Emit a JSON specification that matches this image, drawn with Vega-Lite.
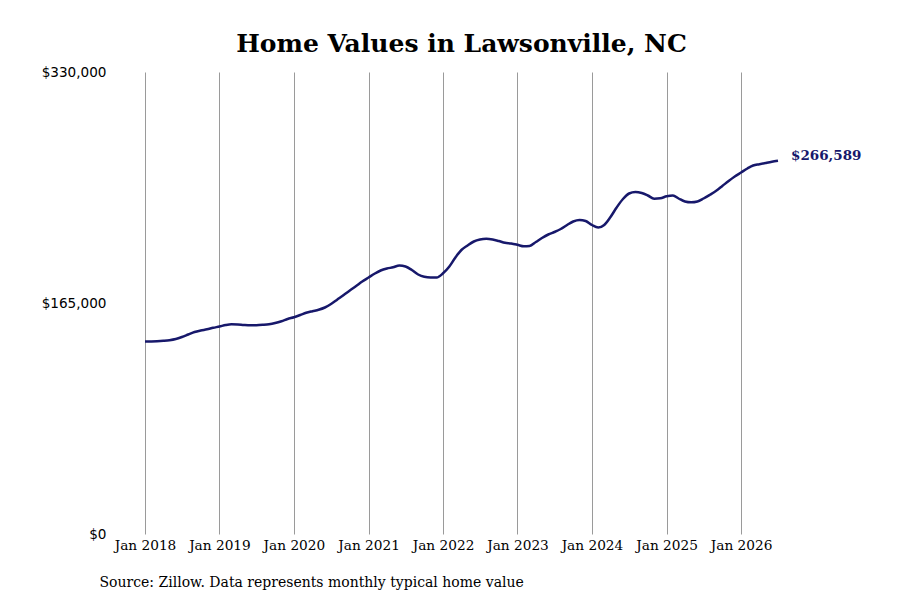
{
  "$schema": "https://vega.github.io/schema/vega-lite/v6.json",
  "description": "Monthly typical home value in Lawsonville, NC (Zillow).",
  "autosize": {"type": "none"},
  "padding": {"left": 145, "top": 72, "right": 122, "bottom": 66},
  "width": 633,
  "height": 462,
  "background": "white",
  "config": {"view": {"stroke": null}},
  "title": {
    "text": "Home Values in Lawsonville, NC",
    "font": "DejaVu Serif",
    "fontSize": 25,
    "fontWeight": "bold",
    "color": "#000000",
    "anchor": "middle",
    "baseline": "alphabetic",
    "offset": 19,
    "dy": 31
  },
  "data": {
    "values": [
      {"date": "2018-01-01", "value": 137500},
      {"date": "2018-02-01", "value": 137571},
      {"date": "2018-03-01", "value": 137714},
      {"date": "2018-04-01", "value": 138000},
      {"date": "2018-05-01", "value": 138429},
      {"date": "2018-06-01", "value": 139286},
      {"date": "2018-07-01", "value": 140714},
      {"date": "2018-08-01", "value": 142500},
      {"date": "2018-09-01", "value": 144286},
      {"date": "2018-10-01", "value": 145357},
      {"date": "2018-11-01", "value": 146214},
      {"date": "2018-12-01", "value": 147286},
      {"date": "2019-01-01", "value": 148214},
      {"date": "2019-02-01", "value": 149286},
      {"date": "2019-03-01", "value": 149786},
      {"date": "2019-04-01", "value": 149643},
      {"date": "2019-05-01", "value": 149286},
      {"date": "2019-06-01", "value": 149071},
      {"date": "2019-07-01", "value": 149143},
      {"date": "2019-08-01", "value": 149429},
      {"date": "2019-09-01", "value": 149857},
      {"date": "2019-10-01", "value": 150714},
      {"date": "2019-11-01", "value": 152000},
      {"date": "2019-12-01", "value": 153571},
      {"date": "2020-01-01", "value": 154857},
      {"date": "2020-02-01", "value": 156429},
      {"date": "2020-03-01", "value": 158000},
      {"date": "2020-04-01", "value": 159143},
      {"date": "2020-05-01", "value": 160143},
      {"date": "2020-06-01", "value": 161786},
      {"date": "2020-07-01", "value": 164286},
      {"date": "2020-08-01", "value": 167500},
      {"date": "2020-09-01", "value": 170714},
      {"date": "2020-10-01", "value": 173929},
      {"date": "2020-11-01", "value": 177143},
      {"date": "2020-12-01", "value": 180357},
      {"date": "2021-01-01", "value": 183214},
      {"date": "2021-02-01", "value": 186071},
      {"date": "2021-03-01", "value": 188214},
      {"date": "2021-04-01", "value": 189643},
      {"date": "2021-05-01", "value": 190500},
      {"date": "2021-06-01", "value": 191786},
      {"date": "2021-07-01", "value": 191071},
      {"date": "2021-08-01", "value": 188571},
      {"date": "2021-09-01", "value": 185357},
      {"date": "2021-10-01", "value": 183714},
      {"date": "2021-11-01", "value": 183214},
      {"date": "2021-12-01", "value": 183214},
      {"date": "2022-01-01", "value": 186214},
      {"date": "2022-02-01", "value": 191071},
      {"date": "2022-03-01", "value": 197143},
      {"date": "2022-04-01", "value": 202857},
      {"date": "2022-05-01", "value": 206071},
      {"date": "2022-06-01", "value": 208929},
      {"date": "2022-07-01", "value": 210357},
      {"date": "2022-08-01", "value": 210857},
      {"date": "2022-09-01", "value": 210357},
      {"date": "2022-10-01", "value": 209286},
      {"date": "2022-11-01", "value": 208000},
      {"date": "2022-12-01", "value": 207500},
      {"date": "2023-01-01", "value": 206571},
      {"date": "2023-02-01", "value": 205500},
      {"date": "2023-03-01", "value": 205714},
      {"date": "2023-04-01", "value": 208571},
      {"date": "2023-05-01", "value": 211429},
      {"date": "2023-06-01", "value": 213929},
      {"date": "2023-07-01", "value": 215714},
      {"date": "2023-08-01", "value": 217857},
      {"date": "2023-09-01", "value": 220714},
      {"date": "2023-10-01", "value": 223214},
      {"date": "2023-11-01", "value": 224286},
      {"date": "2023-12-01", "value": 223571},
      {"date": "2024-01-01", "value": 220714},
      {"date": "2024-02-01", "value": 218929},
      {"date": "2024-03-01", "value": 220714},
      {"date": "2024-04-01", "value": 226429},
      {"date": "2024-05-01", "value": 233214},
      {"date": "2024-06-01", "value": 239286},
      {"date": "2024-07-01", "value": 243214},
      {"date": "2024-08-01", "value": 244286},
      {"date": "2024-09-01", "value": 243571},
      {"date": "2024-10-01", "value": 241786},
      {"date": "2024-11-01", "value": 239500},
      {"date": "2024-12-01", "value": 239786},
      {"date": "2025-01-01", "value": 241214},
      {"date": "2025-02-01", "value": 241786},
      {"date": "2025-03-01", "value": 239643},
      {"date": "2025-04-01", "value": 237500},
      {"date": "2025-05-01", "value": 236929},
      {"date": "2025-06-01", "value": 237500},
      {"date": "2025-07-01", "value": 239643},
      {"date": "2025-08-01", "value": 242286},
      {"date": "2025-09-01", "value": 245143},
      {"date": "2025-10-01", "value": 248571},
      {"date": "2025-11-01", "value": 252143},
      {"date": "2025-12-01", "value": 255357},
      {"date": "2026-01-01", "value": 258214},
      {"date": "2026-02-01", "value": 261071},
      {"date": "2026-03-01", "value": 263214},
      {"date": "2026-04-01", "value": 264143},
      {"date": "2026-05-01", "value": 265000},
      {"date": "2026-06-01", "value": 265857},
      {"date": "2026-07-01", "value": 266589}
    ]
  },
  "encoding": {
    "x": {
      "field": "date",
      "type": "temporal",
      "scale": {"type": "utc", "domain": ["2018-01-01", "2026-07-01"]},
      "axis": {
        "values": [
          {"year": 2018, "month": 1, "date": 1, "utc": true},
          {"year": 2019, "month": 1, "date": 1, "utc": true},
          {"year": 2020, "month": 1, "date": 1, "utc": true},
          {"year": 2021, "month": 1, "date": 1, "utc": true},
          {"year": 2022, "month": 1, "date": 1, "utc": true},
          {"year": 2023, "month": 1, "date": 1, "utc": true},
          {"year": 2024, "month": 1, "date": 1, "utc": true},
          {"year": 2025, "month": 1, "date": 1, "utc": true},
          {"year": 2026, "month": 1, "date": 1, "utc": true}
        ],
        "format": "%b %Y",
        "labelFont": "DejaVu Serif",
        "labelFontSize": 13.7,
        "labelColor": "#000000",
        "labelPadding": 4,
        "labelFlush": false,
        "labelOverlap": false,
        "ticks": false,
        "domain": false,
        "grid": true,
        "gridColor": "#9a9a9a",
        "gridWidth": 1,
        "title": "Source: Zillow. Data represents monthly typical home value",
        "titleFont": "DejaVu Serif",
        "titleFontSize": 14,
        "titleFontWeight": "normal",
        "titleColor": "#000000",
        "titleAlign": "left",
        "titleBaseline": "alphabetic",
        "titleX": -46,
        "titleY": 52
      }
    },
    "y": {
      "field": "value",
      "type": "quantitative",
      "scale": {"domain": [0, 330000], "nice": false},
      "axis": {
        "values": [0, 165000, 330000],
        "format": "$,.0f",
        "labelFont": "DejaVu Sans",
        "labelFontSize": 13.6,
        "labelColor": "#000000",
        "labelPadding": 39,
        "ticks": false,
        "domain": false,
        "grid": false,
        "title": null,
        "encode": {
          "labels": {
            "update": {
              "font": {"signal": "datum.value === 0 ? 'DejaVu Serif' : 'DejaVu Sans'"}
            }
          }
        }
      }
    }
  },
  "layer": [
    {
      "mark": {
        "type": "line",
        "color": "#17186b",
        "strokeWidth": 2.5,
        "interpolate": "monotone"
      }
    },
    {
      "transform": [{"filter": "datum.value === 266589"}],
      "mark": {
        "type": "text",
        "align": "left",
        "baseline": "middle",
        "dx": 13,
        "dy": -5,
        "font": "DejaVu Serif",
        "fontSize": 13.5,
        "fontWeight": "bold",
        "color": "#17186b"
      },
      "encoding": {
        "text": {"field": "value", "type": "quantitative", "format": "$,.0f"}
      }
    }
  ]
}
